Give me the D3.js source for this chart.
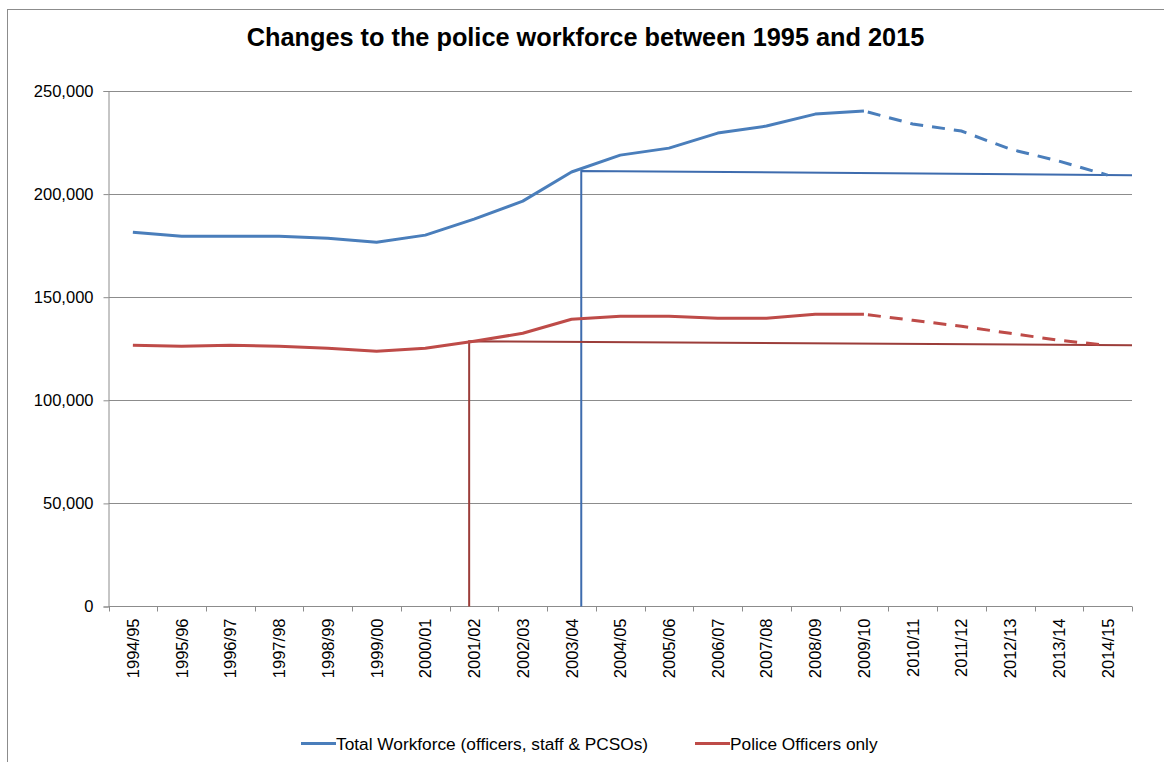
<!DOCTYPE html>
<meta charset="utf-8">
<style>
body { margin: 0; background: #fff; }
svg text { font-family: "Liberation Sans", Arial, sans-serif; fill: #000; }
.grid line { stroke: #8c8c8c; stroke-width: 1; }
.axis path, .axis line { stroke: #8c8c8c; }
</style>
<script src="https://cdn.jsdelivr.net/npm/d3@7"></script>
<svg id="chart" width="1164" height="762"></svg>
<script>
// data
var categories = ["1994/95", "1995/96", "1996/97", "1997/98", "1998/99", "1999/00", "2000/01",
    "2001/02", "2002/03", "2003/04", "2004/05", "2005/06", "2006/07", "2007/08", "2008/09",
    "2009/10", "2010/11", "2011/12", "2012/13", "2013/14", "2014/15"];
var totalWorkforce = [181500, 179600, 179600, 179600, 178600, 176700, 180100, 187900, 196600, 210700,
    218900, 222300, 229600, 233000, 238800, 240300, 234000, 230600, 221800, 216000, 209200];
var officersOnly = [126700, 126200, 126700, 126200, 125200, 123800, 125200, 128600, 132500, 139300,
    140800, 140800, 139800, 139800, 141700, 141700, 138800, 135900, 132500, 129100, 126700];
var yTicks = [0, 50000, 100000, 150000, 200000, 250000];
var forecastFrom = "2009/10"; // dashed after this year

// hand-drawn reference lines (position in category units, start/end level)
var seriesNames = ["Total Workforce (officers, staff & PCSOs)", "Police Officers only"];
var refStart = [9.7, 7.4];
var refLevelStart = [211200, 128600];
var refLevelEnd = [209200, 126700];

(function() {
    var colors = ["#4a7ebb", "#be4b48"];
    var refColors = ["#3e6cae", "#9c3d3a"];

    var svg = d3.select("#chart");
    var pl = 108.5, pr = 1132, pt = 91, pb = 606.5;

    var x = d3.scaleBand().domain(categories).range([pl, pr]);
    var xi = d3.scaleLinear().domain([0, categories.length]).range([pl, pr]);
    var y = d3.scaleLinear().domain([0, 250000]).range([pb, pt]);

    // outer border
    svg.append("rect")
        .attr("x", 7.5).attr("y", 9.5).attr("width", 1300).attr("height", 900)
        .attr("fill", "none").attr("stroke", "#8c8c8c");

    svg.append("text")
        .attr("x", 585.5).attr("y", 45.5)
        .attr("text-anchor", "middle")
        .style("font-size", "25.3px").style("font-weight", "bold")
        .text("Changes to the police workforce between 1995 and 2015");

    // gridlines
    svg.append("g").attr("class", "grid")
        .selectAll("line").data(yTicks.filter(function(t) { return t > 0; })).enter()
        .append("line")
        .attr("x1", pl).attr("x2", pr)
        .attr("y1", function(d) { return Math.round(y(d)) + 0.5; })
        .attr("y2", function(d) { return Math.round(y(d)) + 0.5; });

    // y axis
    var yAxis = d3.axisLeft(y).tickValues(yTicks).tickSize(5).tickPadding(10)
        .tickFormat(d3.format(","));
    svg.append("g").attr("class", "axis")
        .attr("transform", "translate(" + pl + ",0)")
        .call(yAxis)
        .call(function(g) { g.selectAll("text").style("font-size", "16.5px"); });

    // x axis with ticks at band edges
    var xg = svg.append("g").attr("class", "axis")
        .attr("transform", "translate(0," + pb + ")");
    xg.append("line").attr("x1", pl).attr("x2", pr).attr("stroke", "#8c8c8c");
    xg.selectAll(".tk").data(d3.range(categories.length + 1)).enter()
        .append("line").attr("class", "tk")
        .attr("x1", function(i) { return Math.round(xi(i)) + 0.5; })
        .attr("x2", function(i) { return Math.round(xi(i)) + 0.5; })
        .attr("y1", 0).attr("y2", 5).attr("stroke", "#8c8c8c");
    xg.selectAll(".lbl").data(categories).enter()
        .append("text").attr("class", "lbl")
        .attr("transform", function(d) {
            return "translate(" + (x(d) + x.bandwidth() / 2 + 6) + ",12) rotate(-90)";
        })
        .attr("text-anchor", "end")
        .style("font-size", "16.5px")
        .text(function(d) { return d; });

    // reference lines
    refStart.forEach(function(s, i) {
        var path = d3.path();
        path.moveTo(xi(s), y(0));
        path.lineTo(xi(s), y(refLevelStart[i]));
        path.lineTo(pr, y(refLevelEnd[i]));
        svg.append("path").attr("d", path.toString())
            .attr("fill", "none").attr("stroke", refColors[i]).attr("stroke-width", 2);
    });

    // series
    var cx = function(d) { return x(d.cat) + x.bandwidth() / 2; };
    var line = d3.line().x(cx).y(function(d) { return y(d.v); });
    var cut = categories.indexOf(forecastFrom);
    [totalWorkforce, officersOnly].forEach(function(vals, i) {
        var pts = categories.map(function(c, j) { return {cat: c, v: vals[j]}; });
        svg.append("path").datum(pts.slice(0, cut + 1)).attr("d", line)
            .attr("fill", "none").attr("stroke", colors[i]).attr("stroke-width", 3)
            .attr("stroke-linejoin", "round");
        svg.append("path").datum(pts.slice(cut)).attr("d", line)
            .attr("fill", "none").attr("stroke", colors[i]).attr("stroke-width", 3)
            .attr("stroke-dasharray", "13,9").attr("stroke-dashoffset", -4);
    });

    // legend
    var legX = [301, 695];
    seriesNames.forEach(function(n, i) {
        svg.append("line").attr("x1", legX[i]).attr("x2", legX[i] + 35)
            .attr("y1", 743.5).attr("y2", 743.5)
            .attr("stroke", colors[i]).attr("stroke-width", 3);
        svg.append("text").attr("x", legX[i] + 35).attr("y", 749.5)
            .style("font-size", "17.3px")
            .text(n);
    });
})();
</script>
